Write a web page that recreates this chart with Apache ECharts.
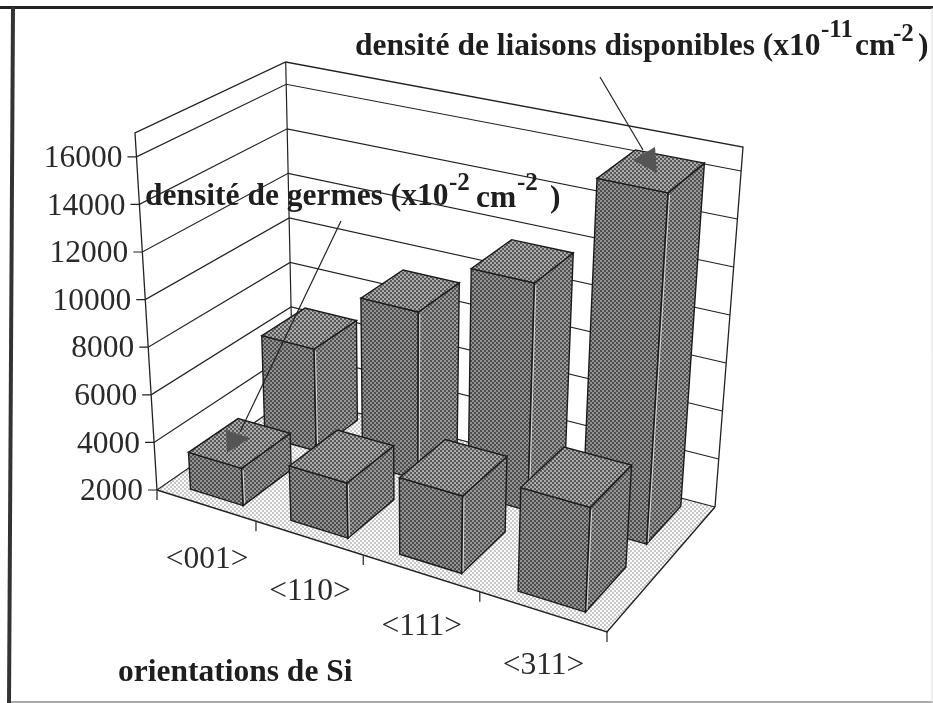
<!DOCTYPE html>
<html><head><meta charset="utf-8">
<style>html,body{margin:0;padding:0;background:#fff}#c{width:933px;height:703px}</style>
<script src="https://cdn.jsdelivr.net/npm/echarts@6/dist/echarts.min.js"></script>
</head><body><div id="c"></div>
<script>
var categories = ['<001>','<110>','<111>','<311>'];
var densiteGermes = [3550,4250,5100,6100];
var densiteLiaisons = [6400,9100,11450,16300];
var yTicks = [2000,4000,6000,8000,10000,12000,14000,16000];
var yMin = 2000, yMax = 17000;
var serif = '"Liberation Serif","Times New Roman",serif';

// scene: corners of the 3D box in the page (floor and ceiling quads)
var floorQ = [[157,490],[607,632],[715,507],[293,396]];
var ceilQ  = [[135,133],[627,245],[743,147],[285.7,62]];
function homography(q){
  var x0=q[0][0],y0=q[0][1],x1=q[1][0],y1=q[1][1],x2=q[2][0],y2=q[2][1],x3=q[3][0],y3=q[3][1];
  var dx1=x1-x2,dx2=x3-x2,sx=x0-x1+x2-x3,dy1=y1-y2,dy2=y3-y2,sy=y0-y1+y2-y3;
  var den=dx1*dy2-dx2*dy1,g=(sx*dy2-dx2*sy)/den,h=(dx1*sy-sx*dy1)/den;
  var a=x1-x0+g*x1,b=x3-x0+h*x3,d=y1-y0+g*y1,e=y3-y0+h*y3;
  return function(u,w){var k=g*u+h*w+1;return [(a*u+b*w+x0)/k,(d*u+e*w+y0)/k];};
}
var hF=homography(floorQ),hC=homography(ceilQ);
function proj(u,w,v){var a=hF(u,w),b=hC(u,w);return [a[0]+(b[0]-a[0])*v,a[1]+(b[1]-a[1])*v];}
function vOf(api,val){var p0=api.coord([0,yMin])[1],p1=api.coord([0,yMax])[1];return (api.coord([0,val])[1]-p0)/(p1-p0);}

function pattern(dot,bg,r){
  var c=document.createElement('canvas');c.width=c.height=4;var x=c.getContext('2d');
  x.fillStyle=bg;x.fillRect(0,0,4,4);x.fillStyle=dot;
  [[1,1],[3,3]].forEach(function(p){x.beginPath();x.arc(p[0],p[1],r,0,Math.PI*2);x.fill();});
  return {image:c,repeat:'repeat'};
}
var pFront=pattern('#ababab','#4e4e4e',1.0);
var pSide=pattern('#b0b0b0','#525252',1.0);
var pTop=pattern('#b8b8b8','#585858',1.05);
var pFloor=pattern('#b2b2b2','#fbfbfb',0.95);
var edge='#1c1c1c';

function poly(pts,fill,stroke,lw){return {type:'polygon',shape:{points:pts},style:{fill:fill,stroke:stroke||'none',lineWidth:lw||0}};}
function pline(pts,col,lw){return {type:'polyline',shape:{points:pts},style:{fill:'none',stroke:col||'#222',lineWidth:lw||1.2}};}

function renderFrame(params,api){
  var t=1,c=[];
  c.push(poly([proj(0,0,0),proj(1,0,0),proj(1,1,0),proj(0,1,0)],pFloor));
  c.push(pline([proj(0,0,0),proj(1,0,0),proj(1,1,0)],'#222',1.4));
  c.push(pline([proj(0,0,0),proj(0,0,t),proj(0,1,t),proj(1,1,t),proj(1,1,0)],'#222',1.3));
  c.push(pline([proj(0,1,0),proj(0,1,t)],'#222',1.2));
  for(var i=0;i<=categories.length;i++){
    var p=proj(i/categories.length,0,0);
    c.push(pline([p,[p[0],p[1]+10]],'#222',1.2));
  }
  return {type:'group',children:c};
}
function renderTick(params,api){
  var val=api.value(0),v=vOf(api,val),a=proj(0,0,v),b=proj(0,1,v),d=proj(1,1,v);
  return {type:'group',children:[
    pline([[a[0]-9,a[1]],a,b,d],'#222',1.2),
    {type:'text',style:{text:String(val),x:a[0]-14,y:a[1]+2,align:'right',verticalAlign:'middle',font:'31.5px '+serif,fill:'#2a2a2a'}}
  ]};
}
function renderCatLabel(params,api){
  var i=api.value(0);
  var p=proj((i+0.5)/categories.length,0,0);
  return {type:'text',style:{text:categories[i],x:p[0]+1.5,y:p[1]+54,align:'center',verticalAlign:'middle',font:'31.5px '+serif,fill:'#2a2a2a'}};
}
function barRenderer(w0,w1){
  return function(params,api){
    var i=api.value(0),val=api.value(1),band=api.size([1,0])[0];
    var x0=api.coord([0,yMin])[0]-band/2,cx=api.coord([i,val])[0];
    var n=categories.length,uc=(cx-x0)/(n*band),hw=0.267/n;
    var u0=uc-hw,u1=uc+hw,v=vOf(api,val);
    var a=proj(u0,w0,0),b=proj(u1,w0,0),c=proj(u1,w1,0);
    var A=proj(u0,w0,v),B=proj(u1,w0,v),C=proj(u1,w1,v),D=proj(u0,w1,v);
    return {type:'group',children:[
      poly([a,b,B,A],pFront,edge,1.4),
      poly([b,c,C,B],pSide,edge,1.4),
      poly([A,B,C,D],pTop,edge,1.4),
      pline([[b[0]+1.5,b[1]-2],[B[0]+1.5,B[1]+2]],'#d8d8d8',1)
    ]};
  };
}
var common={type:'custom',coordinateSystem:'cartesian2d',silent:true,animation:false,clip:false};
var chart=echarts.init(document.getElementById('c'),null,{renderer:'canvas'});
function txt(s,x,y,size){return {type:'text',silent:true,z:50,style:{text:s,x:x,y:y,font:'bold '+size+'px '+serif,fill:'#1e1e1e',verticalAlign:'middle'}};}
function seg(a,b){return {type:'line',silent:true,z:50,shape:{x1:a[0],y1:a[1],x2:b[0],y2:b[1]},style:{stroke:'#222',lineWidth:1.2}};}
function tri(p){return {type:'polygon',silent:true,z:50,shape:{points:p},style:{fill:'#555'}};}
chart.setOption({
  animation:false,
  backgroundColor:'#fff',
  grid:{left:100,top:100,width:600,height:500,show:false},
  xAxis:{type:'category',data:categories,show:false},
  yAxis:{type:'value',min:yMin,max:yMax,interval:2000,show:false},
  graphic:{elements:[
    {type:'line',silent:true,shape:{x1:0,y1:7.5,x2:933,y2:7.5},style:{stroke:'#222',lineWidth:3}},
    {type:'line',silent:true,shape:{x1:13,y1:7,x2:9,y2:703},style:{stroke:'#333',lineWidth:4}},
    {type:'line',silent:true,shape:{x1:11,y1:702,x2:933,y2:702},style:{stroke:'#aaa',lineWidth:2}},
    {type:'line',silent:true,shape:{x1:932,y1:8,x2:932,y2:703},style:{stroke:'#ddd',lineWidth:1}},
    txt('densité de liaisons disponibles (x10',355,47,31.5),
    txt('-11',821,31,25),txt('cm',855,47,31.5),txt('-2',893,35,25),txt(')',918,47,31.5),
    txt('densité de germes (x10',145,197,31.5),
    txt('-2',449,184,25),txt('cm',476,199,31.5),txt('-2',517,184,25),txt(')',550,199,31.5),
    txt('orientations de Si',118,673,31.5),
    seg([600,77],[643,150]),tri([[655,147],[633,160],[657,173]]),
    seg([341,221],[240,432]),tri([[226,430],[250,438],[227,453]])
  ]},
  series:[
    Object.assign({},common,{name:'frame',data:[[0,yMin]],encode:{x:0,y:1},renderItem:renderFrame,z:1}),
    Object.assign({},common,{name:'ticks',data:yTicks.map(function(t){return [t];}),encode:{y:0},renderItem:renderTick,z:2}),
    Object.assign({},common,{name:'categories',data:categories.map(function(c,i){return [i,yMin];}),encode:{x:0,y:1},renderItem:renderCatLabel,z:3}),
    Object.assign({},common,{name:'densité de liaisons',data:densiteLiaisons.map(function(v,i){return [i,v];}),encode:{x:0,y:1},renderItem:barRenderer(0.61,0.94),z:4}),
    Object.assign({},common,{name:'densité de germes',data:densiteGermes.map(function(v,i){return [i,v];}),encode:{x:0,y:1},renderItem:barRenderer(0.075,0.42),z:5})
  ]
});
</script></body></html>
